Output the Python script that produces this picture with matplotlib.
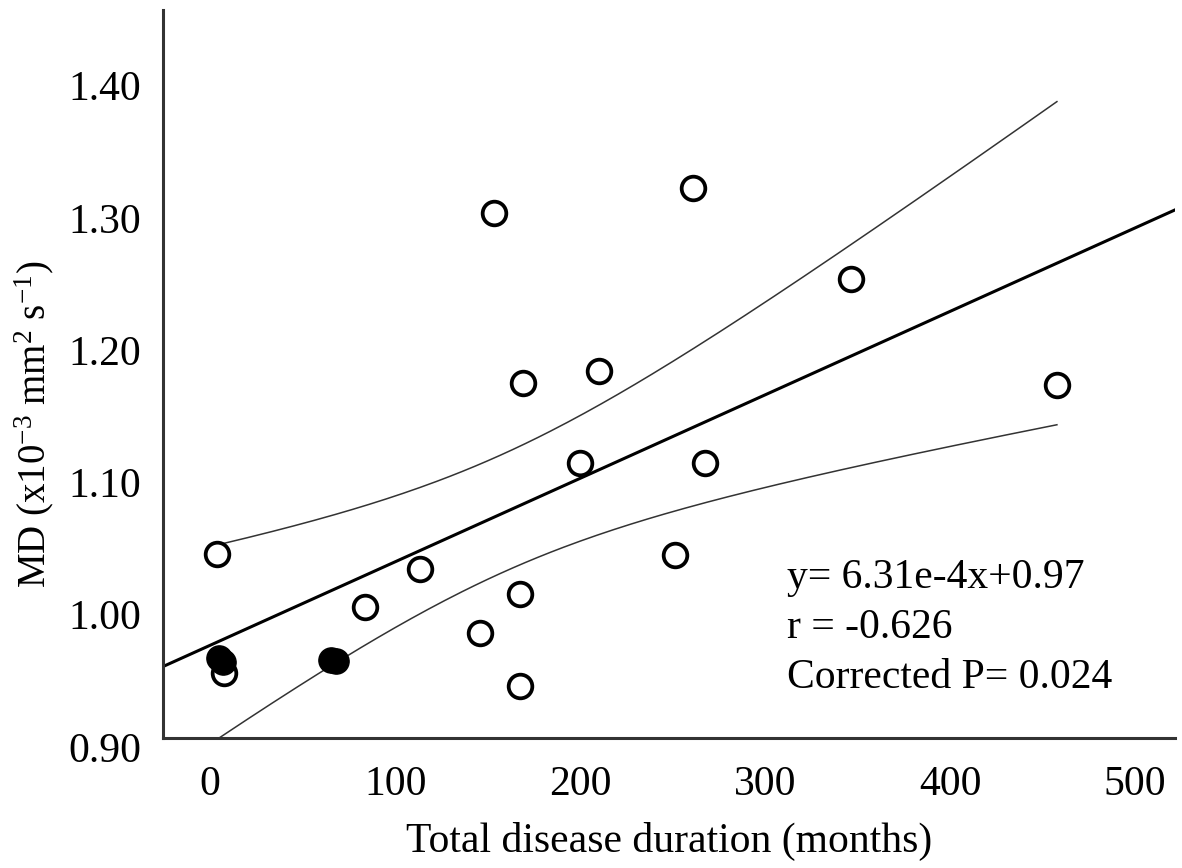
import numpy as np
import matplotlib
matplotlib.use("Agg")
import matplotlib.pyplot as plt
from matplotlib.transforms import ScaledTranslation

plt.rcParams['font.family'] = ['Liberation Serif', 'DejaVu Serif']
plt.rcParams['mathtext.fontset'] = 'custom'
plt.rcParams['mathtext.rm'] = 'Liberation Serif'
plt.rcParams['mathtext.it'] = 'Liberation Serif:italic'

# --- data ---
# open circles
open_x = [3.8, 7.6, 83.8, 113.5, 145.9, 167.6, 167.6, 153.5, 261.1,
          169.2, 210.3, 200.0, 267.6, 346.5, 457.8, 251.4]
open_y = [1.039, 0.949, 0.999, 1.028, 0.979, 1.009, 0.939, 1.297, 1.316,
          1.168, 1.177, 1.108, 1.108, 1.247, 1.167, 1.038]
# filled circles
fill_x = [4.9, 7.0, 65.5, 68.0]
fill_y = [0.960, 0.957, 0.959, 0.958]

# regression reported on the chart
slope = 6.31e-4
intercept = 0.97
eq_text = "y= 6.31e-4x+0.97"
r_text = "r = -0.626"
p_text = "Corrected P= 0.024"

# --- 95% confidence band of the mean around the reported line ---
x_all = np.array(open_x + fill_x)
y_all = np.array(open_y + fill_y)
n = len(x_all)
resid = y_all - (slope * x_all + intercept)
s = np.sqrt(np.sum(resid ** 2) / (n - 2))
xbar = x_all.mean()
sxx = np.sum((x_all - xbar) ** 2)
t_crit = 2.101  # t(0.975, df=18)

x_line = np.linspace(-30, 530, 200)
x_band = np.linspace(x_all.min(), x_all.max(), 200)
fit_band = slope * x_band + intercept
half = t_crit * s * np.sqrt(1.0 / n + (x_band - xbar) ** 2 / sxx)

fig = plt.figure(figsize=(11.82, 8.68), dpi=100)
ax = fig.add_axes([0.138, 0.150, 0.856, 0.838])

ax.plot(x_line, slope * x_line + intercept, color='black', lw=2.2, zorder=2)
ax.plot(x_band, fit_band + half, color='#333333', lw=1.1, zorder=2)
ax.plot(x_band, fit_band - half, color='#333333', lw=1.1, zorder=2)

ax.scatter(open_x, open_y, s=290, facecolors='white', edgecolors='black',
           linewidths=2.7, zorder=3)
ax.scatter(fill_x, fill_y, s=330, facecolors='black', edgecolors='black',
           linewidths=1.0, zorder=4)

ax.set_xlim(-25.5, 521.6)
ax.set_ylim(0.90, 1.45)
ax.set_xticks([0, 100, 200, 300, 400, 500])
ax.set_yticks([0.90, 1.00, 1.10, 1.20, 1.30, 1.40])
ax.set_yticklabels([f"{v:.2f}" for v in [0.90, 1.00, 1.10, 1.20, 1.30, 1.40]])
ax.tick_params(axis='both', length=0, labelsize=30)
ax.tick_params(axis='x', pad=20)
ax.tick_params(axis='y', pad=16)

# y tick labels sit a little below their grid value in the original
shift = ScaledTranslation(0, -9 / 100, fig.dpi_scale_trans)
for lab in ax.get_yticklabels():
    lab.set_transform(lab.get_transform() + shift)

for side in ['top', 'right']:
    ax.spines[side].set_visible(False)
for side in ['left', 'bottom']:
    ax.spines[side].set_linewidth(2.2)
    ax.spines[side].set_color('#333333')

ax.set_xlabel("Total disease duration (months)", fontsize=30, labelpad=13)
ax.set_ylabel(r"MD (x10$^{\mathregular{-3}}$ mm$^{\mathregular{2}}$ s$^{\mathregular{-1}}$)",
              fontsize=28)
ax.yaxis.set_label_coords(-0.106, 0.431)

ax.text(0.617, 0.206, eq_text, transform=ax.transAxes, fontsize=30, va='baseline')
ax.text(0.617, 0.137, r_text, transform=ax.transAxes, fontsize=30, va='baseline')
ax.text(0.617, 0.069, p_text, transform=ax.transAxes, fontsize=30, va='baseline')

fig.savefig("out.png", dpi=100)
